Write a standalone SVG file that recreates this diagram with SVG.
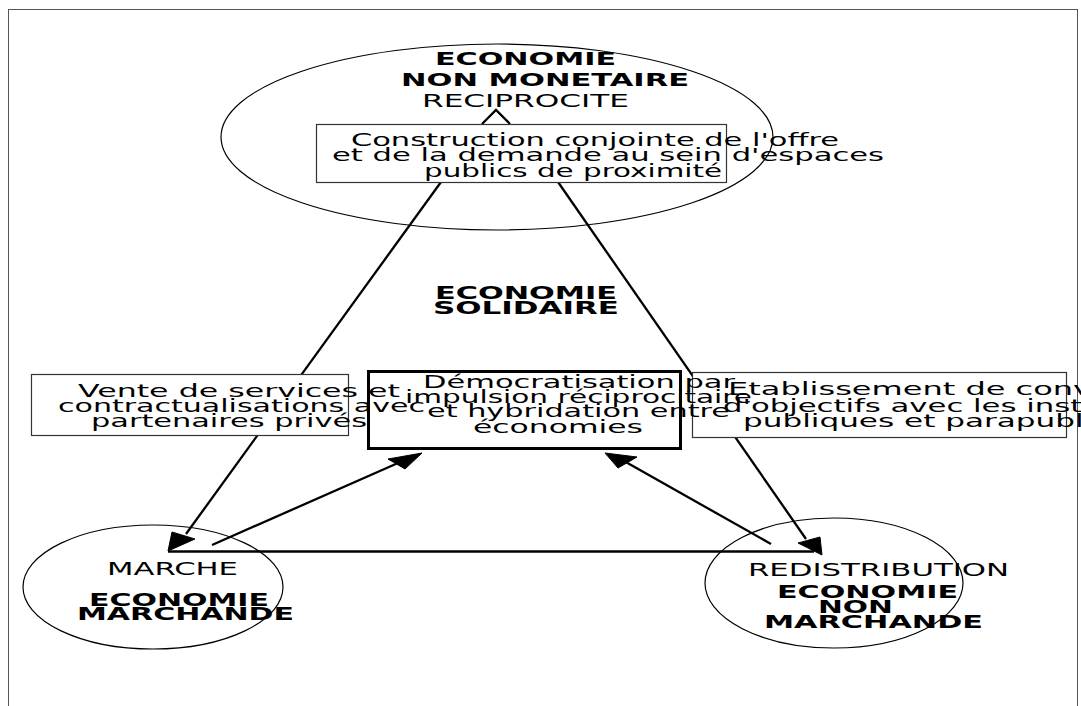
<svg xmlns="http://www.w3.org/2000/svg" width="1081" height="706" viewBox="0 0 1081 706">
<style>
.t{font-family:"DejaVu Sans",sans-serif;font-size:17px;fill:#000}
.b{font-weight:bold}
.box{fill:#fff;stroke:#333;stroke-width:1.2}
.ell{fill:none;stroke:#000;stroke-width:1.2}
.ln{stroke:#000;stroke-width:2.3;fill:none}
.ah{fill:#000;stroke:#000;stroke-width:1}
</style>
<rect x="8.5" y="9.5" width="1069" height="720" fill="#fff" stroke="#555" stroke-width="1"/>
<g id="connectors">
<line class="ln" x1="441" y1="182" x2="186" y2="534"/>
<polygon class="ah" points="168,551 172,532 195,539"/>
<line class="ln" x1="558" y1="182" x2="806" y2="539"/>
<polygon class="ah" points="822,555 798,543 820,537"/>
<line class="ln" x1="168" y1="551.5" x2="814" y2="551.5" stroke-width="2.7"/>
<line class="ln" x1="212" y1="545" x2="398" y2="463"/>
<polygon class="ah" points="422,453 388,459 405,469"/>
<line class="ln" x1="771" y1="544" x2="624" y2="461"/>
<polygon class="ah" points="605,453 637,457 618,468"/>
<polyline class="ln" stroke-width="1.5" points="482,124 496,110 510,124"/>
</g>
<g id="node-reciprocite">
<ellipse class="ell" cx="497" cy="137" rx="276" ry="93"/>
</g>
<g id="node-marche">
<ellipse class="ell" cx="153" cy="587" rx="130" ry="62"/>
</g>
<g id="node-redistribution">
<ellipse class="ell" cx="834" cy="583" rx="129" ry="65"/>
</g>
<g id="box-construction">
<rect class="box" x="316.5" y="124.5" width="410" height="58"/>
</g>
<g id="box-conventions">
<rect class="box" x="692.5" y="372.5" width="374" height="65"/>
</g>
<g id="box-vente">
<rect class="box" x="31.5" y="374.5" width="317" height="61"/>
</g>
<g id="box-democratisation">
<rect x="368.5" y="371.5" width="312" height="77" fill="none" stroke="#000" stroke-width="3"/>
</g>
<g id="labels-reciprocite">
<text class="t b" x="435" y="65" textLength="181" lengthAdjust="spacingAndGlyphs" font-size="18">ECONOMIE</text>
<text class="t b" x="401" y="86" textLength="288" lengthAdjust="spacingAndGlyphs" font-size="18">NON MONETAIRE</text>
<text class="t" x="422" y="107" textLength="207" lengthAdjust="spacingAndGlyphs" font-size="18">RECIPROCITE</text>
</g>
<g id="labels-construction">
<text class="t" x="351" y="146" textLength="488" lengthAdjust="spacingAndGlyphs">Construction conjointe de l'offre</text>
<text class="t" x="332" y="161" textLength="552" lengthAdjust="spacingAndGlyphs">et de la demande au sein d'espaces</text>
<text class="t" x="424" y="177" textLength="298" lengthAdjust="spacingAndGlyphs">publics de proximité</text>
</g>
<g id="labels-solidaire">
<text class="t b" x="435" y="299" textLength="182" lengthAdjust="spacingAndGlyphs">ECONOMIE</text>
<text class="t b" x="433" y="314" textLength="186" lengthAdjust="spacingAndGlyphs">SOLIDAIRE</text>
</g>
<g id="labels-vente">
<text class="t" x="78" y="397" textLength="322" lengthAdjust="spacingAndGlyphs">Vente de services et</text>
<text class="t" x="58" y="412" textLength="367" lengthAdjust="spacingAndGlyphs">contractualisations avec</text>
<text class="t" x="91" y="427" textLength="276" lengthAdjust="spacingAndGlyphs">partenaires privés</text>
</g>
<g id="labels-democratisation">
<text class="t" x="423" y="388" textLength="312" lengthAdjust="spacingAndGlyphs">Démocratisation par</text>
<text class="t" x="405" y="403" textLength="347" lengthAdjust="spacingAndGlyphs">impulsion réciprocitaire</text>
<text class="t" x="427" y="417" textLength="303" lengthAdjust="spacingAndGlyphs">et hybridation entre</text>
<text class="t" x="473" y="433" textLength="170" lengthAdjust="spacingAndGlyphs">économies</text>
</g>
<g id="labels-conventions">
<text class="t" x="728" y="395" textLength="482" lengthAdjust="spacingAndGlyphs">Etablissement de conventions</text>
<text class="t" x="723" y="412" textLength="474" lengthAdjust="spacingAndGlyphs">d'objectifs avec les institutions</text>
<text class="t" x="743" y="427" textLength="424" lengthAdjust="spacingAndGlyphs">publiques et parapubliques</text>
</g>
<g id="labels-marche">
<text class="t" x="107" y="575" textLength="131" lengthAdjust="spacingAndGlyphs">MARCHE</text>
<text class="t b" x="89" y="606" textLength="180" lengthAdjust="spacingAndGlyphs">ECONOMIE</text>
<text class="t b" x="77" y="620" textLength="217" lengthAdjust="spacingAndGlyphs">MARCHANDE</text>
</g>
<g id="labels-redistribution">
<text class="t" x="748" y="576" textLength="261" lengthAdjust="spacingAndGlyphs">REDISTRIBUTION</text>
<text class="t b" x="777" y="598" textLength="181" lengthAdjust="spacingAndGlyphs">ECONOMIE</text>
<text class="t b" x="818" y="613" textLength="75" lengthAdjust="spacingAndGlyphs">NON</text>
<text class="t b" x="764" y="628" textLength="219" lengthAdjust="spacingAndGlyphs">MARCHANDE</text>
</g>
</svg>
